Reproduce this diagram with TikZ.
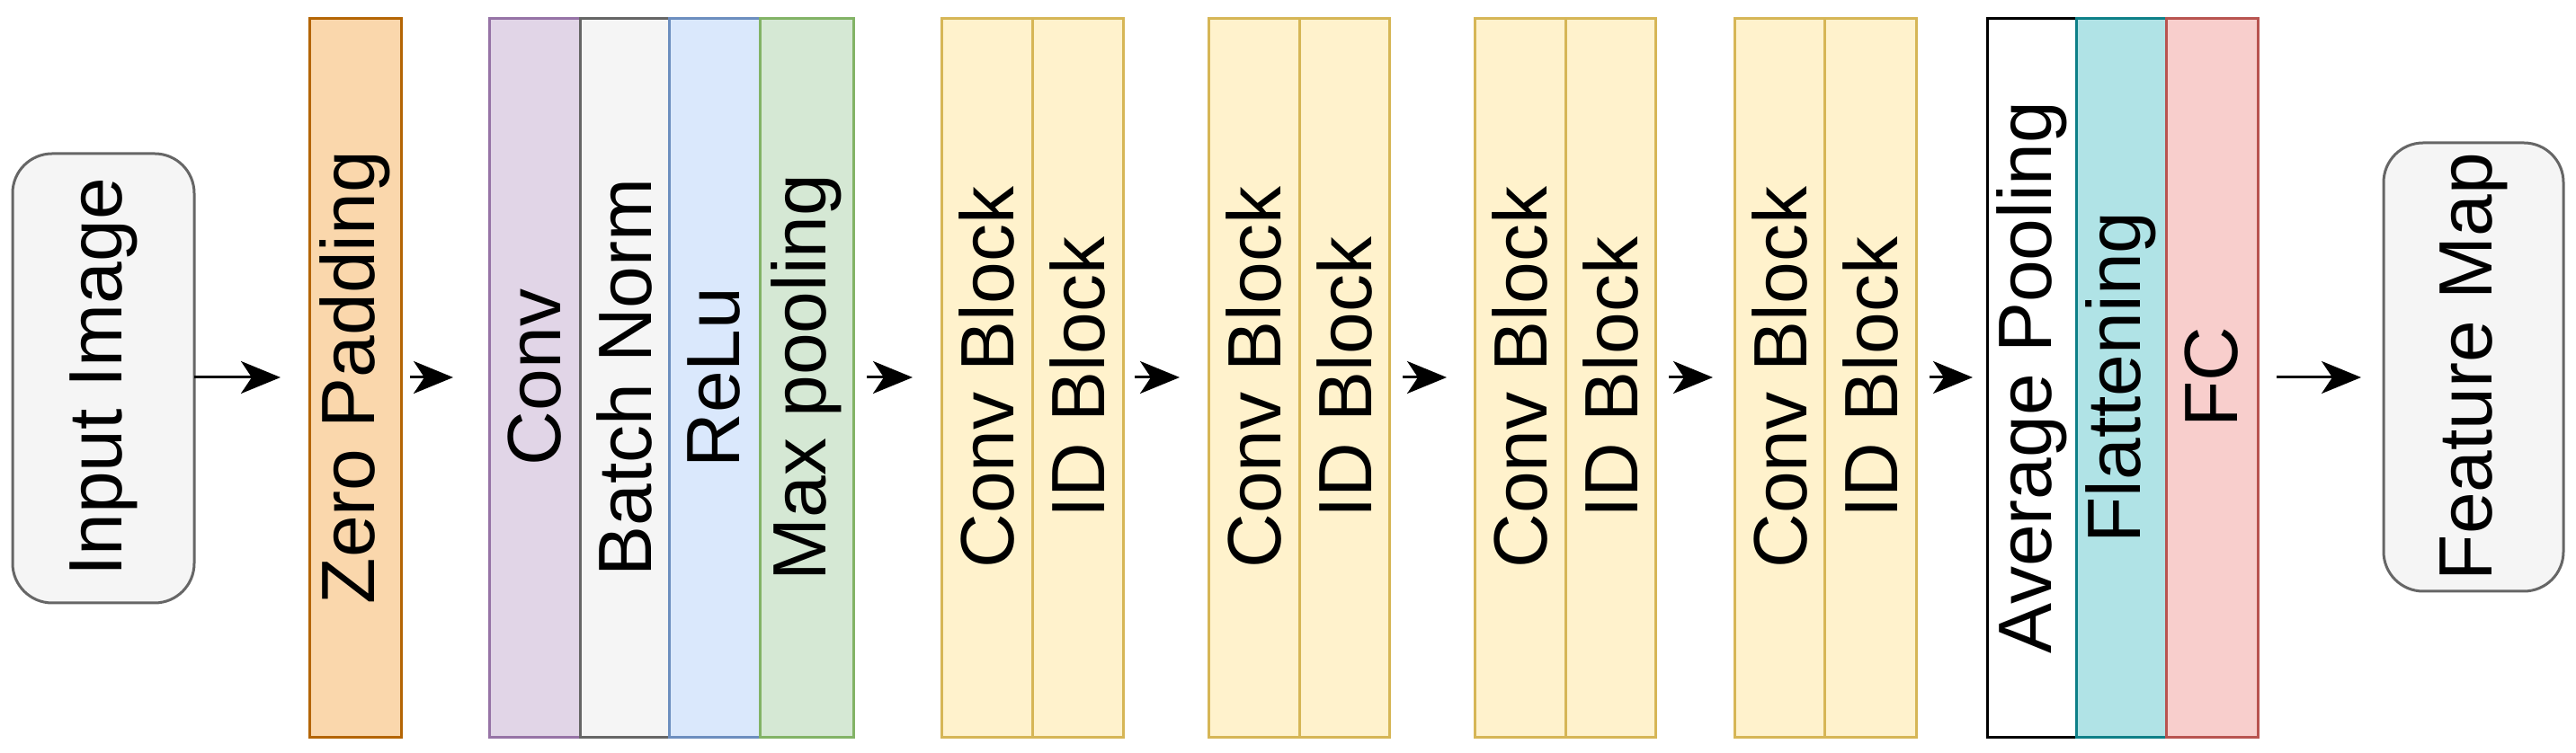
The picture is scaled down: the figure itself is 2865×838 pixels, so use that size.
\documentclass[tikz,border=0pt]{standalone}
\usepackage{fontspec}
\setmainfont{Liberation Sans}
\usetikzlibrary{arrows.meta}
\definecolor{oS}{HTML}{B46504}\definecolor{oF}{HTML}{FAD7AC}
\definecolor{pS}{HTML}{9673A6}\definecolor{pF}{HTML}{E1D5E7}
\definecolor{gS}{HTML}{666666}\definecolor{gF}{HTML}{F5F5F5}
\definecolor{bS}{HTML}{6C8EBF}\definecolor{bF}{HTML}{DAE8FC}
\definecolor{grS}{HTML}{82B366}\definecolor{grF}{HTML}{D5E8D4}
\definecolor{yS}{HTML}{D6B656}\definecolor{yF}{HTML}{FFF2CC}
\definecolor{tS}{HTML}{0E8088}\definecolor{tF}{HTML}{B0E3E6}
\definecolor{rS}{HTML}{B85450}\definecolor{rF}{HTML}{F8CECC}
\begin{document}
\begin{tikzpicture}[x=0.5pt,y=0.5pt,
  lab/.style={font=\fontsize{42}{50}\selectfont, rotate=90},
  bar/.style={line width=1.5pt},
  arr/.style={-{Stealth[length=22pt,width=18pt,inset=6pt]}, line width=1.5pt}]
\useasboundingbox (0,0) rectangle (2865,838);
% y_tikz = 838 - y
\newcommand\barbox[6]{% name, x1, x2, stroke, fill, text
  \draw[bar,draw=#4,fill=#5] (#2,17) rectangle (#3,817);
  \node[lab] (#1) at ({(#2+#3)/2},418) {#6};}
\draw[line width=1.5pt,draw=gS,fill=gF,rounded corners=22pt] (14,167) rectangle (216,667);
\node[lab] (in) at (115,418) {Input Image};
\coordinate (inE) at (216,418);
\barbox{zp}{344}{446}{oS}{oF}{Zero Padding}
\barbox{cv}{544}{645}{pS}{pF}{Conv}
\barbox{bn}{645}{744}{gS}{gF}{Batch Norm}
\barbox{rl}{744}{845}{bS}{bF}{ReLu}
\barbox{mp}{845}{949}{grS}{grF}{Max pooling}
\barbox{c1}{1047}{1148}{yS}{yF}{Conv Block}
\barbox{i1}{1148}{1249}{yS}{yF}{ID Block}
\barbox{c2}{1344}{1445}{yS}{yF}{Conv Block}
\barbox{i2}{1445}{1545}{yS}{yF}{ID Block}
\barbox{c3}{1640}{1741}{yS}{yF}{Conv Block}
\barbox{i3}{1741}{1841}{yS}{yF}{ID Block}
\barbox{c4}{1929}{2029}{yS}{yF}{Conv Block}
\barbox{i4}{2029}{2131}{yS}{yF}{ID Block}
\barbox{ap}{2210}{2309}{black}{white}{Average Pooling}
\barbox{fl}{2309}{2409}{tS}{tF}{Flattening}
\barbox{fc}{2409}{2511}{rS}{rF}{FC}
\draw[line width=1.5pt,draw=gS,fill=gF,rounded corners=22pt] (2651,180) rectangle (2851,679);
\node[lab] (fm) at (2751,430) {Feature Map};
\coordinate (a1) at (312,418);
\coordinate (b1) at (456,418);\coordinate (b2) at (504,418);
\coordinate (c1s) at (964,418);\coordinate (c1e) at (1015,418);
\coordinate (d1) at (1262,418);\coordinate (d2) at (1312,418);
\coordinate (e1) at (1560,418);\coordinate (e2) at (1609,418);
\coordinate (f1) at (1856,418);\coordinate (f2) at (1905,418);
\coordinate (g1) at (2146,418);\coordinate (g2) at (2194,418);
\coordinate (h1) at (2532,418);\coordinate (h2) at (2626,418);
\draw[arr] (inE) -- (a1);
\draw[arr] (b1) -- (b2);
\draw[arr] (c1s) -- (c1e);
\draw[arr] (d1) -- (d2);
\draw[arr] (e1) -- (e2);
\draw[arr] (f1) -- (f2);
\draw[arr] (g1) -- (g2);
\draw[arr] (h1) -- (h2);
\end{tikzpicture}
\end{document}
